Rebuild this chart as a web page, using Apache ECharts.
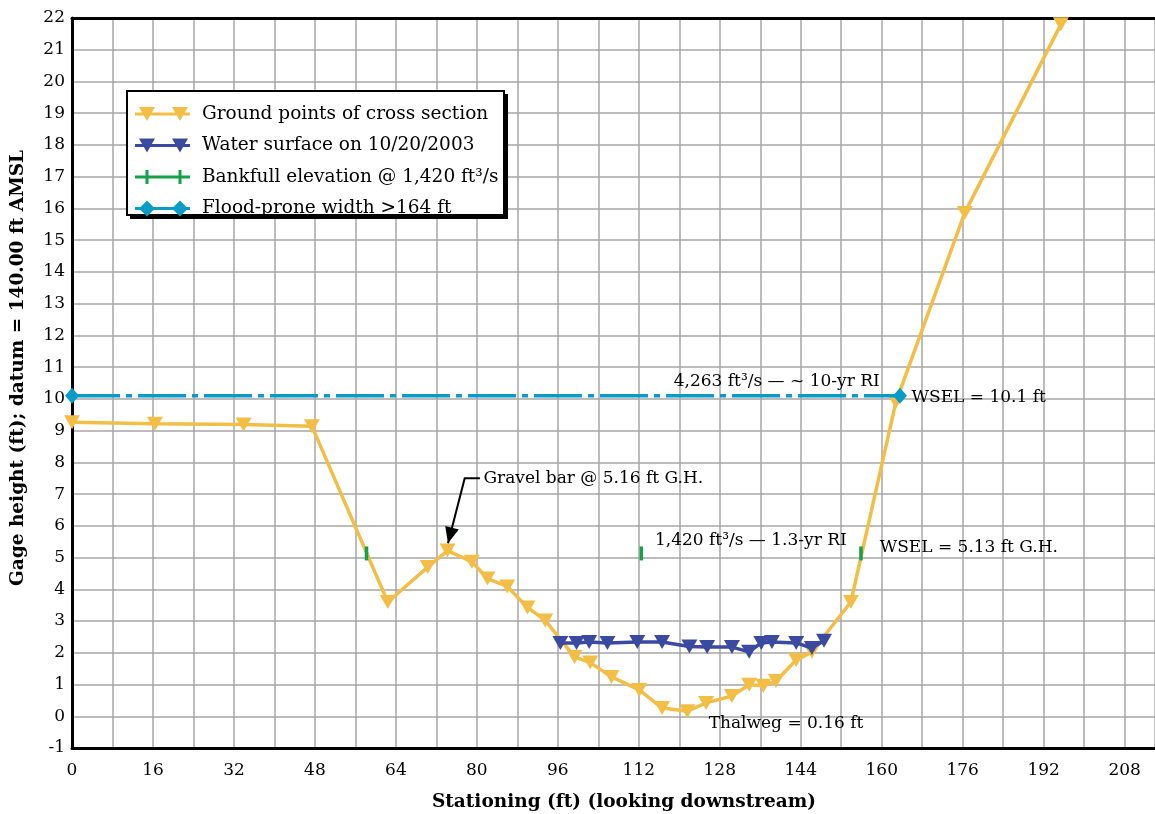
<!DOCTYPE html>
<html>
<head>
<meta charset="utf-8">
<script src="https://cdn.jsdelivr.net/npm/echarts@6/dist/echarts.min.js"></script>
<style>html,body{margin:0;padding:0;background:#fff;overflow:hidden}#c{width:1155px;height:814px}</style>
</head>
<body>
<div id="c"></div>
<script>
// ---- data ----
const groundX = [0, 16.4, 33.9, 47.4, 62.4, 70.3, 74.2, 79, 82.1, 86, 90, 93.5, 99.3, 102.4, 106.6, 112.1, 116.6, 121.6, 125.3, 130.4, 133.8, 136.6, 139.1, 143.1, 146.2, 153.9, 162.8, 176.4, 195.4];
const groundY = [9.26, 9.22, 9.19, 9.14, 3.6, 4.7, 5.22, 4.87, 4.34, 4.09, 3.43, 3.02, 1.87, 1.69, 1.24, 0.83, 0.26, 0.16, 0.42, 0.64, 0.99, 0.96, 1.11, 1.77, 2.03, 3.6, 9.9, 15.86, 21.8];
const waterX = [96.5, 99.7, 102.2, 105.8, 111.7, 116.6, 122, 125.5, 130.4, 133.8, 136.2, 138.3, 143.1, 146.2, 148.6];
const waterY = [2.31, 2.31, 2.34, 2.31, 2.34, 2.34, 2.2, 2.18, 2.18, 2.03, 2.31, 2.34, 2.31, 2.15, 2.38];
const bankX = [58.2, 112.5, 155.9];
const bankY = [5.13, 5.13, 5.13];
const floodX = [0, 163.6];
const floodY = [10.1, 10.1];
const seriesNames = ['Ground points of cross section', 'Water surface on 10/20/2003', 'Bankfull elevation @ 1,420 ft\u00B3/s', 'Flood-prone width >164 ft'];
const xTicks = [0, 16, 32, 48, 64, 80, 96, 112, 128, 144, 160, 176, 192, 208];
const xTitle = 'Stationing (ft) (looking downstream)';
const yTitle = 'Gage height (ft); datum = 140.00 ft AMSL';
const annoText = ['4,263 ft\u00B3/s \u2014 ~ 10-yr RI', 'WSEL = 10.1 ft', 'Gravel bar @ 5.16 ft G.H.', '1,420 ft\u00B3/s \u2014 1.3-yr RI', 'WSEL = 5.13 ft G.H.', 'Thalweg = 0.16 ft'];
const annoPos = [[159.6, 10.55], [165.9, 10.05], [81.3, 7.5], [115.2, 5.52], [159.6, 5.33], [125.8, -0.22]];
const annoAlign = ['right', 'left', 'left', 'left', 'left', 'left'];
const arrowPts = [[80.6, 7.5], [77.6, 7.5], [74.3, 5.45]];

const zip = (a, b) => a.map((v, i) => [v, b[i]]);
const FONT = 'DejaVu Serif';
const C_GROUND = '#F2BE46', C_WATER = '#3A4AA0', C_BANK = '#16A04A', C_FLOOD = '#0A9BC6';
const X_MIN = 0, X_MAX = 214;

const chart = echarts.init(document.getElementById('c'), null, {renderer: 'canvas'});
const axisBlack = {show: true, onZero: false, lineStyle: {color: '#000', width: 3}};
const option = {
  animation: false,
  backgroundColor: '#fff',
  grid: {left: 72, top: 18, right: 0, bottom: 66, show: true, borderWidth: 0, backgroundColor: '#fff'},
  xAxis: [{
    type: 'value', min: X_MIN, max: X_MAX, interval: 8,
    axisLine: axisBlack, axisTick: {show: false},
    splitLine: {show: true, lineStyle: {color: '#a6a6a6', width: 1.5}},
    axisLabel: {margin: 14, color: '#000', fontFamily: FONT, fontSize: 17, showMaxLabel: false,
      formatter: v => xTicks.indexOf(v) >= 0 ? String(v) : ''}
  }, {
    type: 'value', min: X_MIN, max: X_MAX, interval: 8, position: 'top',
    axisLine: axisBlack, axisTick: {show: false}, axisLabel: {show: false}, splitLine: {show: false}
  }],
  yAxis: {
    type: 'value', min: -1, max: 22, interval: 1,
    axisLine: axisBlack, axisTick: {show: false},
    splitLine: {show: true, lineStyle: {color: '#a6a6a6', width: 1.5}},
    axisLabel: {margin: 7, color: '#000', fontFamily: FONT, fontSize: 17}
  },
  legend: {
    left: 135, top: 104, orient: 'vertical', padding: 0, itemGap: 11.5,
    itemWidth: 55, itemHeight: 16, selectedMode: false,
    textStyle: {fontFamily: FONT, fontSize: 18.5, color: '#000', lineHeight: 20, padding: [0, 0, 0, 7]},
    data: [
      {name: seriesNames[0], icon: 'path://M0,6.5H55V9.5H0Z M4,1H20L12,15Z M37,1H53L45,15Z'},
      {name: seriesNames[1], icon: 'path://M0,6.5H55V9.5H0Z M4,1H20L12,15Z M37,1H53L45,15Z'},
      {name: seriesNames[2], icon: 'path://M0,6.5H55V9.5H0Z M10.5,1H13.5V15H10.5Z M43.5,1H46.5V15H43.5Z'},
      {name: seriesNames[3], icon: 'path://M0,6.5H55V9.5H0Z M12,0L20,8L12,16L4,8Z M45,0L53,8L45,16L37,8Z'}
    ],
    z: 10
  },
  series: [
    {name: seriesNames[0], type: 'line', data: zip(groundX, groundY), color: C_GROUND, z: 3,
      lineStyle: {width: 3.5, color: C_GROUND}, symbol: 'triangle', symbolRotate: 180, symbolSize: [16, 14],
      itemStyle: {color: C_GROUND}},
    {name: seriesNames[1], type: 'line', data: zip(waterX, waterY), color: C_WATER, z: 4,
      lineStyle: {width: 3.5, color: C_WATER}, symbol: 'triangle', symbolRotate: 180, symbolSize: [16, 14],
      itemStyle: {color: C_WATER}},
    {name: seriesNames[2], type: 'line', data: zip(bankX, bankY), color: C_BANK, z: 4,
      lineStyle: {width: 0, opacity: 0}, symbol: 'rect', symbolSize: [3.5, 14],
      itemStyle: {color: C_BANK}},
    {name: seriesNames[3], type: 'line', data: zip(floodX, floodY), color: C_FLOOD, z: 5,
      lineStyle: {width: 3.5, color: C_FLOOD, type: [48, 6, 6, 6]}, symbol: 'diamond', symbolSize: [14, 16],
      itemStyle: {color: C_FLOOD}}
  ]
};
chart.setOption(option);

// legend frame, axis titles and annotations
const px = p => chart.convertToPixel({gridIndex: 0}, p);
const g = [
  {type: 'rect', left: 130, top: 94, z: 5, shape: {width: 378, height: 125}, style: {fill: '#000'}},
  {type: 'rect', left: 126, top: 90, z: 6, shape: {width: 377, height: 124}, style: {fill: '#fff', stroke: '#000', lineWidth: 2}},
  {type: 'text', x: 18, y: 368, rotation: Math.PI / 2, z: 20,
    style: {text: yTitle, fill: '#000', font: 'bold 18.5px "' + FONT + '"', align: 'center', verticalAlign: 'middle'}},
  {type: 'text', x: 624, y: 802, z: 20,
    style: {text: xTitle, fill: '#000', font: 'bold 18.5px "' + FONT + '"', align: 'center', verticalAlign: 'middle'}}
];
annoText.forEach((t, i) => {
  const p = px(annoPos[i]);
  g.push({type: 'text', x: p[0], y: p[1], z: 20,
    style: {text: t, fill: '#000', font: '17px "' + FONT + '"', align: annoAlign[i], verticalAlign: 'middle'}});
});
const ap = arrowPts.map(px);
g.push({type: 'polyline', z: 20, shape: {points: [ap[0], ap[1], ap[2]]}, style: {stroke: '#000', lineWidth: 2, fill: null}});
const tip = ap[2], from = ap[1];
const dx = tip[0] - from[0], dy = tip[1] - from[1], L = Math.hypot(dx, dy);
const ux = dx / L, uy = dy / L, hl = 16, hw = 7;
const bx = tip[0] - ux * hl, by = tip[1] - uy * hl;
g.push({type: 'polygon', z: 21, shape: {points: [tip, [bx - uy * hw, by + ux * hw], [bx + uy * hw, by - ux * hw]]}, style: {fill: '#000'}});
chart.setOption({graphic: g});
</script>
</body>
</html>
